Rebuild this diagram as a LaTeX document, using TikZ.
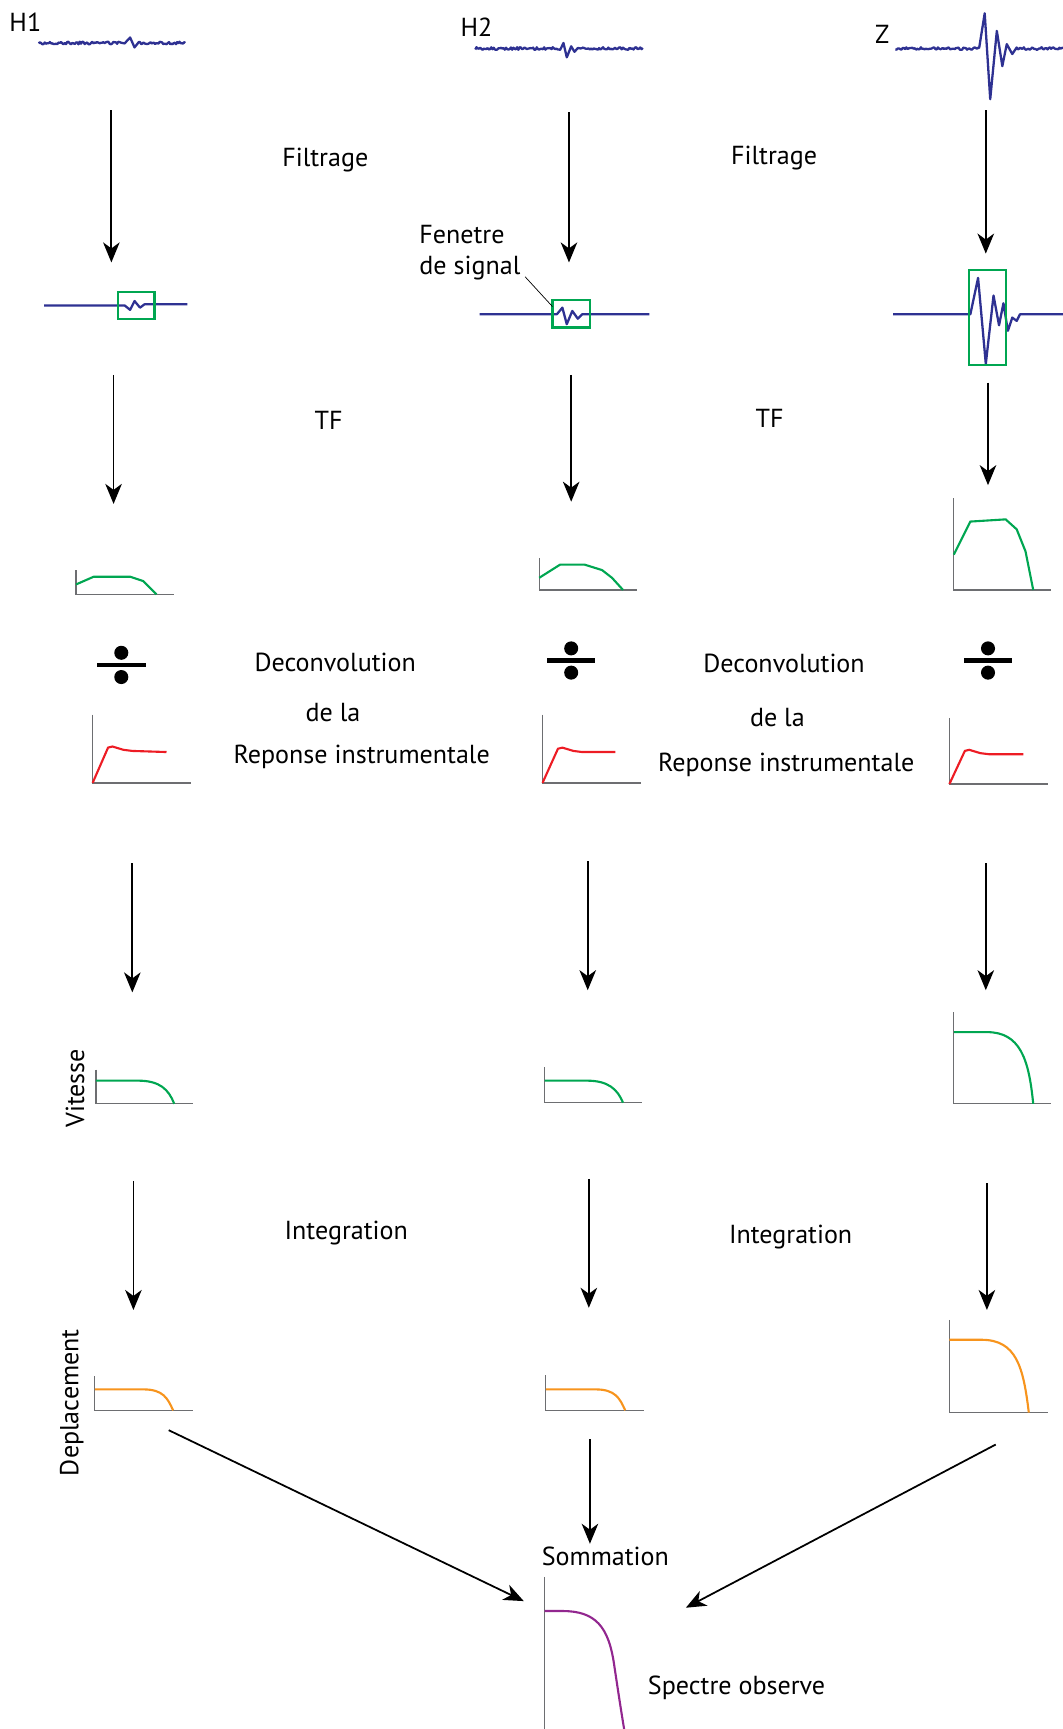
\documentclass[tikz,border=0pt]{standalone}
\usepackage{fontspec}
\setmainfont{PT Sans}
\usetikzlibrary{arrows.meta}
\definecolor{sigblue}{HTML}{2E3192}
\definecolor{wingreen}{HTML}{00A651}
\definecolor{respred}{HTML}{ED1C24}
\definecolor{disporange}{HTML}{F7941D}
\definecolor{obspurple}{HTML}{92278F}
\definecolor{axisgray}{HTML}{6D6E71}
\tikzset{
  sig/.style={draw=sigblue,line width=1.3pt,line join=round},
  winbox/.style={draw=wingreen,line width=1.3pt},
  spec/.style={draw=wingreen,line width=1.2pt},
  resp/.style={draw=respred,line width=1.2pt},
  disp/.style={draw=disporange,line width=1.2pt},
  obs/.style={draw=obspurple,line width=1.2pt},
  axe/.style={draw=axisgray,line width=0.7pt},
  arrow/.style={-{Stealth[length=4mm,width=3.3mm,inset=1.2mm]},line width=1pt},
  lbl/.style={font=\fontsize{14.8}{17}\selectfont,inner sep=0pt},
  lead/.style={draw=black,line width=0.4pt}
}

\begin{document}
\begin{tikzpicture}[x=0.022cm,y=-0.022cm]
  \useasboundingbox (0,0) rectangle (964,1568);
  \pgfmathsetseed{7}
  % traces brutes
  \node[lbl] (lH1) at (23,20) {H1};
  \node[lbl] (lH2) at (432,25) {H2};
  \node[lbl] (lZ) at (800,31) {Z};
  \draw[sig] plot[domain=35:113,samples=70] (\x,{39+1.2*rand})
    -- (118,34) -- (122,43) -- (126,38) -- plot[domain=127:168,samples=40] (\x,{39+1.2*rand});
  \draw[sig] plot[domain=431:508,samples=70] (\x,{44+1.2*rand})
    -- (511,39) -- (514,52) -- (518,42) -- (521,47) -- plot[domain=524:583,samples=50] (\x,{44+1.2*rand});
  \draw[sig] plot[domain=812:888,samples=70] (\x,{44+1.2*rand})
    -- (893,12) -- (898,90) -- (904,28) -- (909,60) -- (913,40) -- (918,49)
    -- plot[domain=922:964,samples=40] (\x,{44+1.2*rand});
  % filtrage
  \coordinate (a1s) at (101,100); \coordinate (a1e) at (101,238);
  \coordinate (a2s) at (516,102); \coordinate (a2e) at (516,238);
  \coordinate (a3s) at (894,100); \coordinate (a3e) at (894,230);
  \draw[arrow] (a1s) -- (a1e);
  \draw[arrow] (a2s) -- (a2e);
  \draw[arrow] (a3s) -- (a3e);
  \node[lbl] (filt1) at (295,145) {Filtrage};
  \node[lbl] (filt2) at (702,143) {Filtrage};
  % fenetres
  \node[lbl,anchor=west] (fen1) at (380,213) {Fenetre};
  \node[lbl,anchor=west] (fen2) at (380,243) {de signal};
  \draw[sig] (40,277) -- (113,277) -- (118,281) -- (122,273) -- (127,279) -- (131,276) -- (170,276);
  \draw[winbox] (107,265) rectangle (140,289);
  \draw[sig] (435,285) -- (505,285) -- (510,279) -- (514,294) -- (519,282) -- (524,289) -- (528,285) -- (589,285);
  \draw[winbox] (501,272) rectangle (535,297);
  \coordinate (lead2) at (501,278);
  \draw[lead] (fen2.east) ++(4,8) -- (lead2);
  \draw[sig] (810,285) -- (880,285) -- (887,252) -- (894,330) -- (901,268) -- (906,295)
    -- (910,275) -- (914,300) -- (918,288) -- (922,291) -- (925,285) -- (964,285);
  \draw[winbox] (879,245) rectangle (912,331);
  % TF
  \coordinate (b1s) at (103,340); \coordinate (b1e) at (103,457);
  \coordinate (b2s) at (518,340); \coordinate (b2e) at (518,455);
  \coordinate (b3s) at (896,347); \coordinate (b3e) at (896,440);
  \draw[arrow] (b1s) -- (b1e);
  \draw[arrow] (b2s) -- (b2e);
  \draw[arrow] (b3s) -- (b3e);
  \node[lbl] (tf1) at (298,381) {TF};
  \node[lbl] (tf2) at (698,379) {TF};
  % spectres
  \draw[axe] (69,517) -- (69,539) -- (158,539);
  \draw[spec] (69,530) -- (85,523) -- (118,523) -- (130,527) -- (142,539);
  \draw[axe] (489,506) -- (489,535) -- (578,535);
  \draw[spec] (489,524) -- (508,512) -- (530,512) -- (546,517) -- (555,524) -- (565,535);
  \draw[axe] (865,452) -- (865,535) -- (953,535);
  \draw[spec] (865,503) -- (880,473) -- (912,471) -- (922,480) -- (930,500) -- (937,535);
  % deconvolution
  \foreach \x/\y in {110/603,518/599,896/599} {
    \fill (\x,\y-11) circle[radius=1.4mm];
    \fill (\x,\y+11) circle[radius=1.4mm];
    \fill (\x-22,\y-2) rectangle (\x+22,\y+2);
  }
  \node[lbl] (dec1) at (304,601) {Deconvolution};
  \node[lbl] (dela1) at (302,646) {de la};
  \node[lbl] (rep1) at (328,686) {Reponse instrumentale};
  \node[lbl] (dec2) at (711,602) {Deconvolution};
  \node[lbl] (dela2) at (705,651) {de la};
  \node[lbl] (rep2) at (713,694) {Reponse instrumentale};
  \draw[axe] (84,648) -- (84,710) -- (173,710);
  \draw[resp] (84,710) -- (98,678) -- (102,677) -- (112,680) -- (120,681) -- (151,682);
  \draw[axe] (492,648) -- (492,710) -- (581,710);
  \draw[resp] (492,710) -- (506,679) -- (510,678) -- (520,681) -- (528,682) -- (558,682);
  \draw[axe] (861,651) -- (861,711) -- (950,711);
  \draw[resp] (861,711) -- (875,681) -- (879,680) -- (889,683) -- (897,684) -- (928,684);
  % vitesse
  \coordinate (c1s) at (120,783); \coordinate (c1e) at (120,900);
  \coordinate (c2s) at (533,781); \coordinate (c2e) at (533,898);
  \coordinate (c3s) at (894,783); \coordinate (c3e) at (894,898);
  \draw[arrow] (c1s) -- (c1e);
  \draw[arrow] (c2s) -- (c2e);
  \draw[arrow] (c3s) -- (c3e);
  \node[lbl,rotate=90] (vit) at (68,987) {Vitesse};
  \draw[axe] (87,970) -- (87,1001) -- (175,1001);
  \draw[spec] (87,980) -- (125,980) .. controls (145,980) and (153,988) .. (158,1001);
  \draw[axe] (494,968) -- (494,1000) -- (582,1000);
  \draw[spec] (494,980) -- (532,980) .. controls (552,980) and (560,988) .. (565,1000);
  \draw[axe] (865,918) -- (865,1001) -- (953,1001);
  \draw[spec] (865,936) -- (895,936) .. controls (925,936) and (933,960) .. (937,1001);
  % integration
  \coordinate (d1s) at (121,1071); \coordinate (d1e) at (121,1188);
  \coordinate (d2s) at (534,1069); \coordinate (d2e) at (534,1186);
  \coordinate (d3s) at (895,1073); \coordinate (d3e) at (895,1188);
  \draw[arrow] (d1s) -- (d1e);
  \draw[arrow] (d2s) -- (d2e);
  \draw[arrow] (d3s) -- (d3e);
  \node[lbl] (int1) at (314,1118) {Integration};
  \node[lbl] (int2) at (717,1122) {Integration};
  % deplacement
  \node[lbl,rotate=90] (depl) at (65,1272) {Deplacement};
  \draw[axe] (86,1248) -- (86,1279) -- (175,1279);
  \draw[disp] (86,1260) -- (130,1260) .. controls (148,1260) and (152,1268) .. (157,1279);
  \draw[axe] (495,1247) -- (495,1279) -- (584,1279);
  \draw[disp] (495,1260) -- (540,1260) .. controls (558,1260) and (562,1268) .. (567,1279);
  \draw[axe] (861,1197) -- (861,1281) -- (950,1281);
  \draw[disp] (861,1215) -- (890,1215) .. controls (922,1215) and (928,1240) .. (933,1281);
  % sommation
  \coordinate (e1s) at (153,1297); \coordinate (e1e) at (475,1452);
  \coordinate (e2s) at (535,1305); \coordinate (e2e) at (535,1400);
  \coordinate (e3s) at (903,1310); \coordinate (e3e) at (622,1458);
  \draw[arrow] (e1s) -- (e1e);
  \draw[arrow] (e2s) -- (e2e);
  \draw[arrow] (e3s) -- (e3e);
  \node[lbl] (som) at (549,1411) {Sommation};
  \draw[axe] (494,1430) -- (494,1568);
  \draw[obs] (494,1461) -- (510,1461) .. controls (540,1461) and (552,1475) .. (557,1510)
    .. controls (560,1530) and (563,1550) .. (566,1568);
  \node[lbl] (spec) at (668,1531) {Spectre observe};
\end{tikzpicture}
\end{document}
